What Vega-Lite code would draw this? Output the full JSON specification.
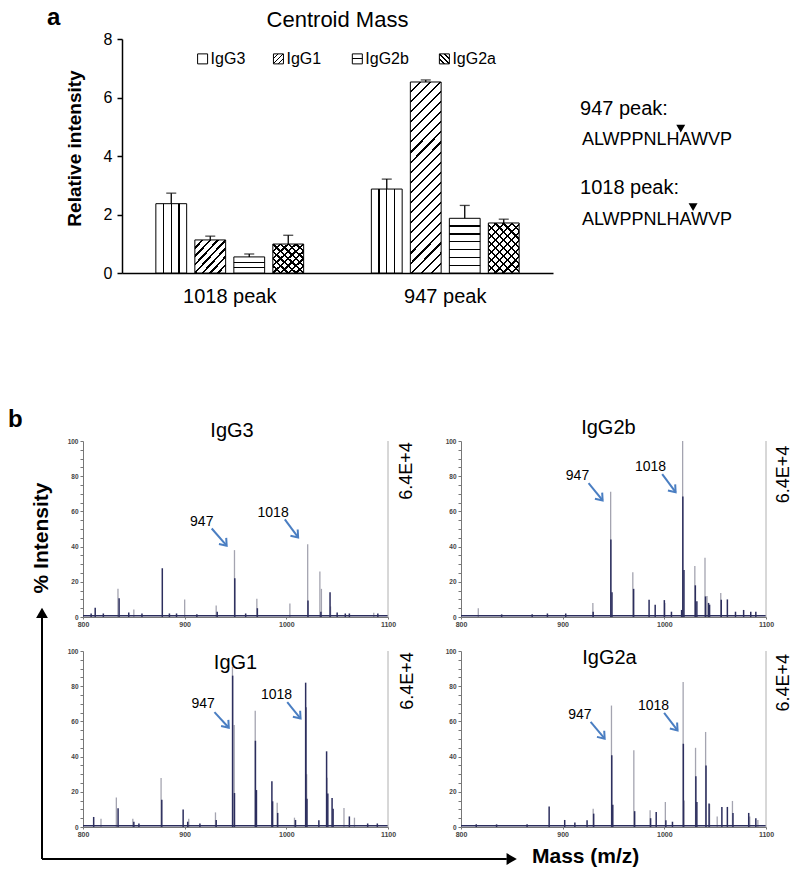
{
"$schema":"https://vega.github.io/schema/vega-lite/v6.json",
"padding":{"left":8,"top":5,"right":0,"bottom":0},
"background":"white",
"config":{"view":{"stroke":null},"font":"Liberation Sans","axis":{"grid":false}},
"datasets":{
"bars":[
{"peak":"1018 peak","isotype":"IgG3","value":2.37,"upper":2.73},
{"peak":"1018 peak","isotype":"IgG1","value":1.13,"upper":1.26},
{"peak":"1018 peak","isotype":"IgG2b","value":0.55,"upper":0.65},
{"peak":"1018 peak","isotype":"IgG2a","value":0.99,"upper":1.29},
{"peak":"947 peak","isotype":"IgG3","value":2.87,"upper":3.21},
{"peak":"947 peak","isotype":"IgG1","value":6.53,"upper":6.6},
{"peak":"947 peak","isotype":"IgG2b","value":1.87,"upper":2.31},
{"peak":"947 peak","isotype":"IgG2a","value":1.71,"upper":1.84}
],
"legend":[
{"k":"leg","isotype":"IgG3","lx":18.7,"ly":91.5},
{"k":"leg","isotype":"IgG1","lx":36.3,"ly":91.5},
{"k":"leg","isotype":"IgG2b","lx":54.6,"ly":91.5},
{"k":"leg","isotype":"IgG2a","lx":74.8,"ly":91.5},
{"k":"title","lx":50,"ly":105.3,"t":"Centroid Mass"},
{"k":"a","lx":-17.4,"ly":106,"t":"a"}
],
"seq":[
{"k":"h","x":11.4,"y":67.4,"t":"947 peak:"},
{"k":"s","x":12.2,"y":54.6,"t":"ALWPPNLHAWVP"},
{"k":"h","x":11.4,"y":33.6,"t":"1018 peak:"},
{"k":"s","x":12.2,"y":20.6,"t":"ALWPPNLHAWVP"},
{"k":"m","x":53.9,"y":61.7},
{"k":"m","x":59.1,"y":28.1}
],
"arrowy":[
{"k":"line","x":0,"y":0,"y2":17},
{"k":"head","x":0,"y":18.1},
{"k":"label","x":0,"y":53.8,"t":"% Intensity"},
{"k":"b","x":-82.9,"y":106.7,"t":"b"}
],
"arrowy2":[
{"k":"line","x":0,"y":0,"y2":100}
],
"arrowx":[
{"k":"line","x":0,"x2":66.4,"y":100},
{"k":"head","x":67.1,"y":100},
{"k":"label","x":70,"y":100,"t":"Mass (m/z)"}
],
"spec":[
{"p":"IgG3","k":"title","mz":946.6,"i":102,"txt":"IgG3"},
{"p":"IgG3","k":"side","mz":1118.7,"i":83,"txt":"6.4E+4"},
{"p":"IgG3","k":"base","mz":800,"mz2":1100,"i":0.7},
{"p":"IgG3","k":"edge","mz":1100,"i":100},
{"p":"IgG3","k":"lab","mz":916.8,"i":54,"txt":"947"},
{"p":"IgG3","k":"lab","mz":987,"i":59,"txt":"1018"},
{"p":"IgG3","k":"arrow","mz":926.6,"i":50.3,"mz2":941.3,"i2":40.5},
{"p":"IgG3","k":"arrow","mz":998.5,"i":55.5,"mz2":1011.6,"i2":45.2},
{"p":"IgG3","k":"head","mz":941.3,"i":40.5},
{"p":"IgG3","k":"head","mz":1011.6,"i":45.2},
{"p":"IgG3","k":"n","mz":808,"i":2},
{"p":"IgG3","k":"n","mz":812,"i":5.3},
{"p":"IgG3","k":"n","mz":820,"i":2},
{"p":"IgG3","k":"g","mz":834.4,"i":16},
{"p":"IgG3","k":"n","mz":835.5,"i":10.7},
{"p":"IgG3","k":"n","mz":845,"i":2.5},
{"p":"IgG3","k":"g","mz":850,"i":4.3},
{"p":"IgG3","k":"n","mz":858,"i":2},
{"p":"IgG3","k":"n","mz":878,"i":27.7},
{"p":"IgG3","k":"n","mz":885,"i":2},
{"p":"IgG3","k":"n","mz":892,"i":2},
{"p":"IgG3","k":"g","mz":900,"i":10},
{"p":"IgG3","k":"n","mz":912,"i":1.5},
{"p":"IgG3","k":"g","mz":931,"i":6.6},
{"p":"IgG3","k":"n","mz":932,"i":3},
{"p":"IgG3","k":"g","mz":949,"i":38},
{"p":"IgG3","k":"n","mz":949.3,"i":22},
{"p":"IgG3","k":"n","mz":960,"i":2},
{"p":"IgG3","k":"g","mz":971,"i":10.4},
{"p":"IgG3","k":"n","mz":971.5,"i":5},
{"p":"IgG3","k":"g","mz":1003.5,"i":7.7},
{"p":"IgG3","k":"g","mz":1021,"i":41.4},
{"p":"IgG3","k":"n","mz":1021.3,"i":9.4},
{"p":"IgG3","k":"g","mz":1033,"i":25.8},
{"p":"IgG3","k":"g","mz":1034.5,"i":16},
{"p":"IgG3","k":"n","mz":1034,"i":3},
{"p":"IgG3","k":"n","mz":1043,"i":14},
{"p":"IgG3","k":"g","mz":1043.5,"i":6},
{"p":"IgG3","k":"n","mz":1050,"i":2.5},
{"p":"IgG3","k":"n","mz":1058,"i":2},
{"p":"IgG3","k":"n","mz":1062,"i":2},
{"p":"IgG3","k":"g","mz":1086,"i":2.4},
{"p":"IgG3","k":"n","mz":1090,"i":2},
{"p":"IgG2b","k":"title","mz":945,"i":103.8,"txt":"IgG2b"},
{"p":"IgG2b","k":"side","mz":1117.7,"i":81,"txt":"6.4E+4"},
{"p":"IgG2b","k":"base","mz":800,"mz2":1100,"i":0.7},
{"p":"IgG2b","k":"edge","mz":1100,"i":100},
{"p":"IgG2b","k":"lab","mz":914.6,"i":79.9,"txt":"947"},
{"p":"IgG2b","k":"lab","mz":986.4,"i":85,"txt":"1018"},
{"p":"IgG2b","k":"arrow","mz":925.5,"i":76.1,"mz2":939.3,"i2":66.2},
{"p":"IgG2b","k":"arrow","mz":997.9,"i":81.2,"mz2":1011.1,"i2":70.9},
{"p":"IgG2b","k":"head","mz":939.3,"i":66.2},
{"p":"IgG2b","k":"head","mz":1011.1,"i":70.9},
{"p":"IgG2b","k":"g","mz":817,"i":5},
{"p":"IgG2b","k":"n","mz":840,"i":1.5},
{"p":"IgG2b","k":"n","mz":870,"i":1.5},
{"p":"IgG2b","k":"n","mz":885,"i":2},
{"p":"IgG2b","k":"n","mz":903,"i":2},
{"p":"IgG2b","k":"g","mz":929.7,"i":8},
{"p":"IgG2b","k":"n","mz":930,"i":3},
{"p":"IgG2b","k":"g","mz":947.2,"i":71.2},
{"p":"IgG2b","k":"n","mz":947.4,"i":44},
{"p":"IgG2b","k":"n","mz":948.5,"i":14},
{"p":"IgG2b","k":"g","mz":969,"i":25.4},
{"p":"IgG2b","k":"n","mz":969.8,"i":16},
{"p":"IgG2b","k":"n","mz":985,"i":9.8},
{"p":"IgG2b","k":"n","mz":991,"i":7},
{"p":"IgG2b","k":"g","mz":1000.5,"i":8},
{"p":"IgG2b","k":"n","mz":1000,"i":9.6},
{"p":"IgG2b","k":"n","mz":1007,"i":3},
{"p":"IgG2b","k":"g","mz":1018,"i":100},
{"p":"IgG2b","k":"n","mz":1018.2,"i":68.4},
{"p":"IgG2b","k":"n","mz":1019.3,"i":26.7},
{"p":"IgG2b","k":"n","mz":1017,"i":4},
{"p":"IgG2b","k":"g","mz":1030,"i":29},
{"p":"IgG2b","k":"n","mz":1030.5,"i":18},
{"p":"IgG2b","k":"n","mz":1032,"i":9},
{"p":"IgG2b","k":"g","mz":1040,"i":33.6},
{"p":"IgG2b","k":"n","mz":1040.5,"i":11.7},
{"p":"IgG2b","k":"g","mz":1042,"i":12},
{"p":"IgG2b","k":"n","mz":1043.5,"i":8},
{"p":"IgG2b","k":"n","mz":1044.5,"i":7},
{"p":"IgG2b","k":"g","mz":1055.5,"i":13.7},
{"p":"IgG2b","k":"n","mz":1056,"i":9.8},
{"p":"IgG2b","k":"n","mz":1062,"i":10},
{"p":"IgG2b","k":"n","mz":1070,"i":3},
{"p":"IgG2b","k":"n","mz":1078,"i":4},
{"p":"IgG2b","k":"n","mz":1085,"i":3},
{"p":"IgG2b","k":"n","mz":1090,"i":3},
{"p":"IgG1","k":"title","mz":950,"i":89.7,"txt":"IgG1"},
{"p":"IgG1","k":"side","mz":1119.6,"i":83,"txt":"6.4E+4"},
{"p":"IgG1","k":"base","mz":800,"mz2":1100,"i":0.7},
{"p":"IgG1","k":"edge","mz":1100,"i":100},
{"p":"IgG1","k":"lab","mz":918.2,"i":69.7,"txt":"947"},
{"p":"IgG1","k":"lab","mz":990.4,"i":74.8,"txt":"1018"},
{"p":"IgG1","k":"arrow","mz":929.3,"i":65.3,"mz2":943.4,"i2":56.4},
{"p":"IgG1","k":"arrow","mz":1000.9,"i":71,"mz2":1014,"i2":61.6},
{"p":"IgG1","k":"head","mz":943.4,"i":56.4},
{"p":"IgG1","k":"head","mz":1014,"i":61.6},
{"p":"IgG1","k":"n","mz":810.5,"i":5.7},
{"p":"IgG1","k":"g","mz":817.7,"i":4.7},
{"p":"IgG1","k":"g","mz":832.8,"i":16.7},
{"p":"IgG1","k":"n","mz":834.5,"i":10.6},
{"p":"IgG1","k":"g","mz":849,"i":4.7},
{"p":"IgG1","k":"n","mz":850,"i":3},
{"p":"IgG1","k":"n","mz":855,"i":2},
{"p":"IgG1","k":"g","mz":876.8,"i":27.8},
{"p":"IgG1","k":"n","mz":877.5,"i":15.5},
{"p":"IgG1","k":"n","mz":898.5,"i":10},
{"p":"IgG1","k":"g","mz":904,"i":4.7},
{"p":"IgG1","k":"n","mz":903,"i":3},
{"p":"IgG1","k":"n","mz":915,"i":2},
{"p":"IgG1","k":"g","mz":930.3,"i":8.3},
{"p":"IgG1","k":"n","mz":931,"i":4},
{"p":"IgG1","k":"g","mz":947,"i":91},
{"p":"IgG1","k":"n","mz":947.2,"i":86},
{"p":"IgG1","k":"g","mz":948.7,"i":58},
{"p":"IgG1","k":"n","mz":949,"i":19.3},
{"p":"IgG1","k":"g","mz":969.4,"i":66},
{"p":"IgG1","k":"n","mz":969.6,"i":49},
{"p":"IgG1","k":"n","mz":970.6,"i":21},
{"p":"IgG1","k":"n","mz":985.8,"i":26},
{"p":"IgG1","k":"n","mz":986.5,"i":14.6},
{"p":"IgG1","k":"g","mz":991,"i":13.8},
{"p":"IgG1","k":"n","mz":991.5,"i":8},
{"p":"IgG1","k":"g","mz":1008,"i":5.3},
{"p":"IgG1","k":"n","mz":1009,"i":4},
{"p":"IgG1","k":"n","mz":1019,"i":82},
{"p":"IgG1","k":"n","mz":1019.2,"i":68},
{"p":"IgG1","k":"g","mz":1020,"i":30},
{"p":"IgG1","k":"n","mz":1020.3,"i":16},
{"p":"IgG1","k":"n","mz":1032,"i":3.8},
{"p":"IgG1","k":"n","mz":1039.6,"i":43},
{"p":"IgG1","k":"g","mz":1040,"i":28},
{"p":"IgG1","k":"n","mz":1040.8,"i":19},
{"p":"IgG1","k":"n","mz":1045,"i":16.5},
{"p":"IgG1","k":"n","mz":1046,"i":10.4},
{"p":"IgG1","k":"g","mz":1056.7,"i":10.8},
{"p":"IgG1","k":"n","mz":1062,"i":6},
{"p":"IgG1","k":"g","mz":1067,"i":5.3},
{"p":"IgG1","k":"n","mz":1080,"i":2},
{"p":"IgG1","k":"n","mz":1089.5,"i":2},
{"p":"IgG2a","k":"title","mz":946,"i":92.6,"txt":"IgG2a"},
{"p":"IgG2a","k":"side","mz":1117.6,"i":82,"txt":"6.4E+4"},
{"p":"IgG2a","k":"base","mz":800,"mz2":1100,"i":0.7},
{"p":"IgG2a","k":"edge","mz":1100,"i":100},
{"p":"IgG2a","k":"lab","mz":917,"i":63.4,"txt":"947"},
{"p":"IgG2a","k":"lab","mz":989.3,"i":68.6,"txt":"1018"},
{"p":"IgG2a","k":"arrow","mz":927.5,"i":59.7,"mz2":941.3,"i2":50.2},
{"p":"IgG2a","k":"arrow","mz":999.8,"i":64.8,"mz2":1013,"i2":54.9},
{"p":"IgG2a","k":"head","mz":941.3,"i":50.2},
{"p":"IgG2a","k":"head","mz":1013,"i":54.9},
{"p":"IgG2a","k":"n","mz":815,"i":1.5},
{"p":"IgG2a","k":"n","mz":835,"i":1.5},
{"p":"IgG2a","k":"n","mz":865,"i":1.5},
{"p":"IgG2a","k":"n","mz":886.7,"i":11.7},
{"p":"IgG2a","k":"n","mz":902,"i":4},
{"p":"IgG2a","k":"n","mz":912,"i":2.5},
{"p":"IgG2a","k":"n","mz":924,"i":3.8},
{"p":"IgG2a","k":"g","mz":930,"i":10.4},
{"p":"IgG2a","k":"n","mz":930.5,"i":7.6},
{"p":"IgG2a","k":"g","mz":948,"i":69},
{"p":"IgG2a","k":"n","mz":948.3,"i":40.7},
{"p":"IgG2a","k":"n","mz":949.3,"i":12.7},
{"p":"IgG2a","k":"g","mz":970,"i":43.6},
{"p":"IgG2a","k":"n","mz":970.8,"i":9},
{"p":"IgG2a","k":"g","mz":986,"i":9.5},
{"p":"IgG2a","k":"n","mz":986.5,"i":5},
{"p":"IgG2a","k":"n","mz":992,"i":8.5},
{"p":"IgG2a","k":"g","mz":1001,"i":14.2},
{"p":"IgG2a","k":"n","mz":1001.5,"i":3.8},
{"p":"IgG2a","k":"n","mz":1008,"i":3},
{"p":"IgG2a","k":"g","mz":1018.5,"i":82.4},
{"p":"IgG2a","k":"n","mz":1018.7,"i":47.3},
{"p":"IgG2a","k":"g","mz":1019.5,"i":15},
{"p":"IgG2a","k":"g","mz":1030.7,"i":45},
{"p":"IgG2a","k":"n","mz":1031,"i":28.8},
{"p":"IgG2a","k":"n","mz":1032,"i":14.2},
{"p":"IgG2a","k":"g","mz":1040.6,"i":54},
{"p":"IgG2a","k":"n","mz":1041,"i":35},
{"p":"IgG2a","k":"g","mz":1044.5,"i":13},
{"p":"IgG2a","k":"n","mz":1044,"i":13.3},
{"p":"IgG2a","k":"g","mz":1052,"i":6},
{"p":"IgG2a","k":"n","mz":1056.6,"i":11.4},
{"p":"IgG2a","k":"n","mz":1062,"i":11.4},
{"p":"IgG2a","k":"g","mz":1067,"i":14.8},
{"p":"IgG2a","k":"n","mz":1067.5,"i":8},
{"p":"IgG2a","k":"n","mz":1083,"i":8},
{"p":"IgG2a","k":"g","mz":1084,"i":6},
{"p":"IgG2a","k":"n","mz":1090,"i":5},
{"p":"IgG2a","k":"g","mz":1092,"i":4}
]
},
"bounds":"flush",
"spacing":0,
"vconcat":[
{"bounds":"flush","spacing":0,"hconcat":[
 {"width":80,"height":234,"data":{"values":[{"t":""}]},"mark":{"type":"text"},"encoding":{"text":{"field":"t"}}},
 {"width":431,"height":234,
  "resolve":{"scale":{"x":"independent","y":"independent"}},
  "layer":[
  {"data":{"name":"bars"},
  "encoding":{
   "x":{"field":"peak","type":"nominal","scale":{"domain":["1018 peak","947 peak"],"paddingInner":0.278,"paddingOuter":0.139},
        "axis":{"title":null,"labelAngle":0,"labelFontSize":20,"ticks":false,"labelPadding":13,"domainColor":"black","domainWidth":1.5,"labelColor":"black"}},
   "xOffset":{"field":"isotype","type":"nominal","scale":{"domain":["IgG3","IgG1","IgG2b","IgG2a"],"paddingInner":0.21,"paddingOuter":0.1}}
  },
  "layer":[
   {"mark":{"type":"bar","stroke":"black","strokeWidth":1},
    "encoding":{
     "y":{"field":"value","type":"quantitative","scale":{"domain":[0,8],"nice":false},
          "axis":{"title":"Relative intensity","titleFontSize":19,"titleFontWeight":"bold","titleColor":"black","titlePadding":19,"titleY":109,"values":[0,2,4,6,8],"labelFontSize":16,"labelColor":"black","tickSize":5,"tickColor":"black","tickWidth":1.5,"domainColor":"black","domainWidth":1.5,"labelPadding":5}},
     "fill":{
      "condition":[
       {"test":"datum.isotype==='IgG2b' && datum.peak==='947 peak'","value":{"gradient":"linear","x1":0,"y1":0,"x2":0,"y2":1,"stops":[{"offset":0,"color":"white"},{"offset":0.131,"color":"white"},{"offset":0.131,"color":"black"},{"offset":0.155,"color":"black"},{"offset":0.155,"color":"white"},{"offset":0.274,"color":"white"},{"offset":0.274,"color":"black"},{"offset":0.298,"color":"black"},{"offset":0.298,"color":"white"},{"offset":0.417,"color":"white"},{"offset":0.417,"color":"black"},{"offset":0.441,"color":"black"},{"offset":0.441,"color":"white"},{"offset":0.56,"color":"white"},{"offset":0.56,"color":"black"},{"offset":0.584,"color":"black"},{"offset":0.584,"color":"white"},{"offset":0.702,"color":"white"},{"offset":0.702,"color":"black"},{"offset":0.726,"color":"black"},{"offset":0.726,"color":"white"},{"offset":0.845,"color":"white"},{"offset":0.845,"color":"black"},{"offset":0.869,"color":"black"},{"offset":0.869,"color":"white"},{"offset":1,"color":"white"}]}},
       {"test":"datum.isotype==='IgG1' && datum.peak==='947 peak'","value":{"gradient":"linear","x1":0,"y1":0,"x2":0.184,"y2":1.133,"stops":[{"offset":0,"color":"white"},{"offset":0.0407,"color":"white"},{"offset":0.0407,"color":"black"},{"offset":0.0503,"color":"black"},{"offset":0.0503,"color":"white"},{"offset":0.0861,"color":"white"},{"offset":0.0861,"color":"black"},{"offset":0.0957,"color":"black"},{"offset":0.0957,"color":"white"},{"offset":0.1316,"color":"white"},{"offset":0.1316,"color":"black"},{"offset":0.1412,"color":"black"},{"offset":0.1412,"color":"white"},{"offset":0.177,"color":"white"},{"offset":0.177,"color":"black"},{"offset":0.1866,"color":"black"},{"offset":0.1866,"color":"white"},{"offset":0.2225,"color":"white"},{"offset":0.2225,"color":"black"},{"offset":0.2321,"color":"black"},{"offset":0.2321,"color":"white"},{"offset":0.2679,"color":"white"},{"offset":0.2679,"color":"black"},{"offset":0.2775,"color":"black"},{"offset":0.2775,"color":"white"},{"offset":0.3134,"color":"white"},{"offset":0.3134,"color":"black"},{"offset":0.323,"color":"black"},{"offset":0.323,"color":"white"},{"offset":0.3588,"color":"white"},{"offset":0.3588,"color":"black"},{"offset":0.3684,"color":"black"},{"offset":0.3684,"color":"white"},{"offset":0.4043,"color":"white"},{"offset":0.4043,"color":"black"},{"offset":0.4139,"color":"black"},{"offset":0.4139,"color":"white"},{"offset":0.4497,"color":"white"},{"offset":0.4497,"color":"black"},{"offset":0.4593,"color":"black"},{"offset":0.4593,"color":"white"},{"offset":0.4952,"color":"white"},{"offset":0.4952,"color":"black"},{"offset":0.5048,"color":"black"},{"offset":0.5048,"color":"white"},{"offset":0.5407,"color":"white"},{"offset":0.5407,"color":"black"},{"offset":0.5503,"color":"black"},{"offset":0.5503,"color":"white"},{"offset":0.5861,"color":"white"},{"offset":0.5861,"color":"black"},{"offset":0.5957,"color":"black"},{"offset":0.5957,"color":"white"},{"offset":0.6316,"color":"white"},{"offset":0.6316,"color":"black"},{"offset":0.6412,"color":"black"},{"offset":0.6412,"color":"white"},{"offset":0.677,"color":"white"},{"offset":0.677,"color":"black"},{"offset":0.6866,"color":"black"},{"offset":0.6866,"color":"white"},{"offset":0.7225,"color":"white"},{"offset":0.7225,"color":"black"},{"offset":0.7321,"color":"black"},{"offset":0.7321,"color":"white"},{"offset":0.7679,"color":"white"},{"offset":0.7679,"color":"black"},{"offset":0.7775,"color":"black"},{"offset":0.7775,"color":"white"},{"offset":0.8134,"color":"white"},{"offset":0.8134,"color":"black"},{"offset":0.823,"color":"black"},{"offset":0.823,"color":"white"},{"offset":0.8588,"color":"white"},{"offset":0.8588,"color":"black"},{"offset":0.8684,"color":"black"},{"offset":0.8684,"color":"white"},{"offset":0.9043,"color":"white"},{"offset":0.9043,"color":"black"},{"offset":0.9139,"color":"black"},{"offset":0.9139,"color":"white"},{"offset":0.9497,"color":"white"},{"offset":0.9497,"color":"black"},{"offset":0.9593,"color":"black"},{"offset":0.9593,"color":"white"},{"offset":1,"color":"white"}]}},
       {"test":"datum.isotype==='IgG2a' && datum.peak==='947 peak'","value":{"gradient":"linear","x1":0,"y1":1,"x2":0.725,"y2":-0.17,"stops":[{"offset":0,"color":"white"},{"offset":0.087,"color":"white"},{"offset":0.087,"color":"black"},{"offset":0.113,"color":"black"},{"offset":0.113,"color":"white"},{"offset":0.187,"color":"white"},{"offset":0.187,"color":"black"},{"offset":0.213,"color":"black"},{"offset":0.213,"color":"white"},{"offset":0.287,"color":"white"},{"offset":0.287,"color":"black"},{"offset":0.313,"color":"black"},{"offset":0.313,"color":"white"},{"offset":0.387,"color":"white"},{"offset":0.387,"color":"black"},{"offset":0.413,"color":"black"},{"offset":0.413,"color":"white"},{"offset":0.487,"color":"white"},{"offset":0.487,"color":"black"},{"offset":0.513,"color":"black"},{"offset":0.513,"color":"white"},{"offset":0.587,"color":"white"},{"offset":0.587,"color":"black"},{"offset":0.613,"color":"black"},{"offset":0.613,"color":"white"},{"offset":0.687,"color":"white"},{"offset":0.687,"color":"black"},{"offset":0.713,"color":"black"},{"offset":0.713,"color":"white"},{"offset":0.787,"color":"white"},{"offset":0.787,"color":"black"},{"offset":0.813,"color":"black"},{"offset":0.813,"color":"white"},{"offset":0.887,"color":"white"},{"offset":0.887,"color":"black"},{"offset":0.913,"color":"black"},{"offset":0.913,"color":"white"},{"offset":1,"color":"white"}]}},
       {"test":"datum.isotype==='IgG3'","value":{"gradient":"linear","x1":0,"y1":0,"x2":1,"y2":0,"stops":[{"offset":0,"color":"white"},{"offset":0.23,"color":"white"},{"offset":0.23,"color":"black"},{"offset":0.27,"color":"black"},{"offset":0.27,"color":"white"},{"offset":0.48,"color":"white"},{"offset":0.48,"color":"black"},{"offset":0.52,"color":"black"},{"offset":0.52,"color":"white"},{"offset":0.73,"color":"white"},{"offset":0.73,"color":"black"},{"offset":0.77,"color":"black"},{"offset":0.77,"color":"white"},{"offset":1,"color":"white"}]}},
       {"test":"datum.isotype==='IgG1'","value":{"gradient":"linear","x1":0,"y1":0,"x2":1,"y2":1,"stops":[{"offset":0,"color":"white"},{"offset":0.105,"color":"white"},{"offset":0.105,"color":"black"},{"offset":0.145,"color":"black"},{"offset":0.145,"color":"white"},{"offset":0.23,"color":"white"},{"offset":0.23,"color":"black"},{"offset":0.27,"color":"black"},{"offset":0.27,"color":"white"},{"offset":0.355,"color":"white"},{"offset":0.355,"color":"black"},{"offset":0.395,"color":"black"},{"offset":0.395,"color":"white"},{"offset":0.48,"color":"white"},{"offset":0.48,"color":"black"},{"offset":0.52,"color":"black"},{"offset":0.52,"color":"white"},{"offset":0.605,"color":"white"},{"offset":0.605,"color":"black"},{"offset":0.645,"color":"black"},{"offset":0.645,"color":"white"},{"offset":0.73,"color":"white"},{"offset":0.73,"color":"black"},{"offset":0.77,"color":"black"},{"offset":0.77,"color":"white"},{"offset":0.855,"color":"white"},{"offset":0.855,"color":"black"},{"offset":0.895,"color":"black"},{"offset":0.895,"color":"white"},{"offset":1,"color":"white"}]}},
       {"test":"datum.isotype==='IgG2b'","value":{"gradient":"linear","x1":0,"y1":0,"x2":0,"y2":1,"stops":[{"offset":0,"color":"white"},{"offset":0.293,"color":"white"},{"offset":0.293,"color":"black"},{"offset":0.373,"color":"black"},{"offset":0.373,"color":"white"},{"offset":0.627,"color":"white"},{"offset":0.627,"color":"black"},{"offset":0.707,"color":"black"},{"offset":0.707,"color":"white"},{"offset":1,"color":"white"}]}}
      ],
      "value":{"gradient":"linear","x1":0,"y1":1,"x2":1,"y2":0,"stops":[{"offset":0,"color":"white"},{"offset":0.105,"color":"white"},{"offset":0.105,"color":"black"},{"offset":0.145,"color":"black"},{"offset":0.145,"color":"white"},{"offset":0.23,"color":"white"},{"offset":0.23,"color":"black"},{"offset":0.27,"color":"black"},{"offset":0.27,"color":"white"},{"offset":0.355,"color":"white"},{"offset":0.355,"color":"black"},{"offset":0.395,"color":"black"},{"offset":0.395,"color":"white"},{"offset":0.48,"color":"white"},{"offset":0.48,"color":"black"},{"offset":0.52,"color":"black"},{"offset":0.52,"color":"white"},{"offset":0.605,"color":"white"},{"offset":0.605,"color":"black"},{"offset":0.645,"color":"black"},{"offset":0.645,"color":"white"},{"offset":0.73,"color":"white"},{"offset":0.73,"color":"black"},{"offset":0.77,"color":"black"},{"offset":0.77,"color":"white"},{"offset":0.855,"color":"white"},{"offset":0.855,"color":"black"},{"offset":0.895,"color":"black"},{"offset":0.895,"color":"white"},{"offset":1,"color":"white"}]}}
    }},
   {"transform":[{"filter":"datum.isotype==='IgG2a'"}],
    "mark":{"type":"bar","strokeWidth":0},
    "encoding":{
     "y":{"field":"value","type":"quantitative"},
     "fill":{"condition":{"test":"datum.peak==='947 peak'","value":{"gradient":"linear","x1":0,"y1":0,"x2":0.725,"y2":1.17,"stops":[{"offset":0,"color":"rgba(0,0,0,0)"},{"offset":0.087,"color":"rgba(0,0,0,0)"},{"offset":0.087,"color":"black"},{"offset":0.113,"color":"black"},{"offset":0.113,"color":"rgba(0,0,0,0)"},{"offset":0.187,"color":"rgba(0,0,0,0)"},{"offset":0.187,"color":"black"},{"offset":0.213,"color":"black"},{"offset":0.213,"color":"rgba(0,0,0,0)"},{"offset":0.287,"color":"rgba(0,0,0,0)"},{"offset":0.287,"color":"black"},{"offset":0.313,"color":"black"},{"offset":0.313,"color":"rgba(0,0,0,0)"},{"offset":0.387,"color":"rgba(0,0,0,0)"},{"offset":0.387,"color":"black"},{"offset":0.413,"color":"black"},{"offset":0.413,"color":"rgba(0,0,0,0)"},{"offset":0.487,"color":"rgba(0,0,0,0)"},{"offset":0.487,"color":"black"},{"offset":0.513,"color":"black"},{"offset":0.513,"color":"rgba(0,0,0,0)"},{"offset":0.587,"color":"rgba(0,0,0,0)"},{"offset":0.587,"color":"black"},{"offset":0.613,"color":"black"},{"offset":0.613,"color":"rgba(0,0,0,0)"},{"offset":0.687,"color":"rgba(0,0,0,0)"},{"offset":0.687,"color":"black"},{"offset":0.713,"color":"black"},{"offset":0.713,"color":"rgba(0,0,0,0)"},{"offset":0.787,"color":"rgba(0,0,0,0)"},{"offset":0.787,"color":"black"},{"offset":0.813,"color":"black"},{"offset":0.813,"color":"rgba(0,0,0,0)"},{"offset":0.887,"color":"rgba(0,0,0,0)"},{"offset":0.887,"color":"black"},{"offset":0.913,"color":"black"},{"offset":0.913,"color":"rgba(0,0,0,0)"},{"offset":1,"color":"rgba(0,0,0,0)"}]}},
      "value":{"gradient":"linear","x1":0,"y1":0,"x2":1,"y2":1,"stops":[{"offset":0,"color":"rgba(0,0,0,0)"},{"offset":0.105,"color":"rgba(0,0,0,0)"},{"offset":0.105,"color":"black"},{"offset":0.145,"color":"black"},{"offset":0.145,"color":"rgba(0,0,0,0)"},{"offset":0.23,"color":"rgba(0,0,0,0)"},{"offset":0.23,"color":"black"},{"offset":0.27,"color":"black"},{"offset":0.27,"color":"rgba(0,0,0,0)"},{"offset":0.355,"color":"rgba(0,0,0,0)"},{"offset":0.355,"color":"black"},{"offset":0.395,"color":"black"},{"offset":0.395,"color":"rgba(0,0,0,0)"},{"offset":0.48,"color":"rgba(0,0,0,0)"},{"offset":0.48,"color":"black"},{"offset":0.52,"color":"black"},{"offset":0.52,"color":"rgba(0,0,0,0)"},{"offset":0.605,"color":"rgba(0,0,0,0)"},{"offset":0.605,"color":"black"},{"offset":0.645,"color":"black"},{"offset":0.645,"color":"rgba(0,0,0,0)"},{"offset":0.73,"color":"rgba(0,0,0,0)"},{"offset":0.73,"color":"black"},{"offset":0.77,"color":"black"},{"offset":0.77,"color":"rgba(0,0,0,0)"},{"offset":0.855,"color":"rgba(0,0,0,0)"},{"offset":0.855,"color":"black"},{"offset":0.895,"color":"black"},{"offset":0.895,"color":"rgba(0,0,0,0)"},{"offset":1,"color":"rgba(0,0,0,0)"}]}}
    }},
   {"mark":{"type":"rule","color":"black","strokeWidth":1.3},"encoding":{"y":{"field":"value","type":"quantitative"},"y2":{"field":"upper"}}},
   {"mark":{"type":"tick","color":"black","thickness":1.3,"size":10},"encoding":{"y":{"field":"upper","type":"quantitative"}}}
  ]},
  {"data":{"name":"legend"},
   "encoding":{"x":{"field":"lx","type":"quantitative","scale":{"domain":[0,100]},"axis":null},"y":{"field":"ly","type":"quantitative","scale":{"domain":[0,100]},"axis":null}},
   "layer":[
    {"transform":[{"filter":"datum.k==='leg'"}],"mark":{"type":"point","shape":"square","size":100,"filled":true,"stroke":"black","strokeWidth":1,"opacity":1},
     "encoding":{"fill":{
      "condition":[
       {"test":"datum.isotype==='IgG3'","value":{"gradient":"linear","x1":0,"y1":0,"x2":1,"y2":0,"stops":[{"offset":0,"color":"white"},{"offset":0.31,"color":"white"},{"offset":0.31,"color":"black"},{"offset":0.38,"color":"black"},{"offset":0.38,"color":"white"},{"offset":0.62,"color":"white"},{"offset":0.62,"color":"black"},{"offset":0.69,"color":"black"},{"offset":0.69,"color":"white"},{"offset":1,"color":"white"}]}},
       {"test":"datum.isotype==='IgG1'","value":{"gradient":"linear","x1":0,"y1":0,"x2":1,"y2":1,"stops":[{"offset":0,"color":"white"},{"offset":0.22,"color":"white"},{"offset":0.22,"color":"black"},{"offset":0.28,"color":"black"},{"offset":0.28,"color":"white"},{"offset":0.47,"color":"white"},{"offset":0.47,"color":"black"},{"offset":0.53,"color":"black"},{"offset":0.53,"color":"white"},{"offset":0.72,"color":"white"},{"offset":0.72,"color":"black"},{"offset":0.78,"color":"black"},{"offset":0.78,"color":"white"},{"offset":1,"color":"white"}]}},
       {"test":"datum.isotype==='IgG2b'","value":{"gradient":"linear","x1":0,"y1":0,"x2":0,"y2":1,"stops":[{"offset":0,"color":"white"},{"offset":0.45,"color":"white"},{"offset":0.45,"color":"black"},{"offset":0.55,"color":"black"},{"offset":0.55,"color":"white"},{"offset":1,"color":"white"}]}}
      ],
      "value":{"gradient":"linear","x1":0,"y1":1,"x2":1,"y2":0,"stops":[{"offset":0,"color":"white"},{"offset":0.22,"color":"white"},{"offset":0.22,"color":"black"},{"offset":0.28,"color":"black"},{"offset":0.28,"color":"white"},{"offset":0.47,"color":"white"},{"offset":0.47,"color":"black"},{"offset":0.53,"color":"black"},{"offset":0.53,"color":"white"},{"offset":0.72,"color":"white"},{"offset":0.72,"color":"black"},{"offset":0.78,"color":"black"},{"offset":0.78,"color":"white"},{"offset":1,"color":"white"}]}}}},
    {"transform":[{"filter":"datum.k==='leg'"}],"mark":{"type":"text","align":"left","baseline":"middle","fontSize":16,"dx":8,"color":"black"},"encoding":{"text":{"field":"isotype"}}},
    {"transform":[{"filter":"datum.k==='title'"}],"mark":{"type":"text","align":"center","baseline":"alphabetic","fontSize":22,"color":"black"},"encoding":{"text":{"field":"t"}}},
    {"transform":[{"filter":"datum.k==='a'"}],"mark":{"type":"text","align":"left","baseline":"alphabetic","fontSize":24,"fontWeight":"bold","color":"black"},"encoding":{"text":{"field":"t"}}}
   ]}
  ]},
 {"width":237,"height":234,
  "data":{"name":"seq"},
  "encoding":{"x":{"field":"x","type":"quantitative","scale":{"domain":[0,100]},"axis":null},"y":{"field":"y","type":"quantitative","scale":{"domain":[0,100]},"axis":null}},
  "layer":[
   {"transform":[{"filter":"datum.k==='h'"}],"mark":{"type":"text","align":"left","baseline":"alphabetic","fontSize":20,"color":"black"},"encoding":{"text":{"field":"t"}}},
   {"transform":[{"filter":"datum.k==='s'"}],"mark":{"type":"text","align":"left","baseline":"alphabetic","fontSize":18,"color":"black"},"encoding":{"text":{"field":"t"}}},
   {"transform":[{"filter":"datum.k==='m'"}],"mark":{"type":"point","shape":"triangle-down","filled":true,"color":"black","size":80,"opacity":1}}
  ]}
]},
{"width":1,"height":402,"data":{"values":[{"t":""}]},"mark":{"type":"text"},"encoding":{"text":{"field":"t"}}},
{"bounds":"flush","spacing":0,"hconcat":[
 {"width":41,"height":210,
  "data":{"name":"arrowy"},
  "encoding":{"x":{"field":"x","type":"quantitative","scale":{"domain":[0,100]},"axis":null},"y":{"field":"y","type":"quantitative","scale":{"domain":[0,100]},"axis":null}},
  "layer":[
   {"transform":[{"filter":"datum.k==='line'"}],"mark":{"type":"rule","color":"black","strokeWidth":2},"encoding":{"y2":{"field":"y2"}}},
   {"transform":[{"filter":"datum.k==='head'"}],"mark":{"type":"point","shape":"triangle-up","filled":true,"color":"black","size":140,"opacity":1}},
   {"transform":[{"filter":"datum.k==='label'"}],"mark":{"type":"text","angle":270,"align":"center","baseline":"middle","fontSize":21,"fontWeight":"bold","color":"black"},"encoding":{"text":{"field":"t"}}},
   {"transform":[{"filter":"datum.k==='b'"}],"mark":{"type":"text","align":"left","baseline":"alphabetic","fontSize":24,"fontWeight":"bold","color":"black"},"encoding":{"text":{"field":"t"}}}
  ]},
 {"width":305,"height":176,"data":{"name":"spec"},"transform":[{"filter":"datum.p==='IgG3'"}],
  "encoding":{
   "x":{"field":"mz","type":"quantitative","scale":{"domain":[800,1100],"nice":false,"zero":false},
        "axis":{"values":[800,900,1000,1100],"format":"d","title":null,"labelFontSize":7,"labelFontWeight":"bold","labelColor":"#444","tickSize":2,"tickColor":"#777","domainColor":"#777","labelPadding":1,"labelFlush":false,"labelOverlap":false}},
   "y":{"field":"i","type":"quantitative","scale":{"domain":[0,100],"nice":false},
        "axis":{"values":[0,5,10,15,20,25,30,35,40,45,50,55,60,65,70,75,80,85,90,95,100],"labelExpr":"datum.value % 20 === 0 ? datum.label : ''","title":null,"labelFontSize":6.5,"labelFontWeight":"bold","labelColor":"#444","tickSize":3,"tickColor":"#777","domainColor":"#777","labelPadding":2,"labelOverlap":false}}
  },
  "layer":[
   {"transform":[{"filter":"datum.k==='g'"}],"mark":{"type":"rule","color":"#a4a4b0","strokeWidth":1.3},"encoding":{"y2":{"datum":0}}},
   {"transform":[{"filter":"datum.k==='n'"}],"mark":{"type":"rule","color":"#2c2e5e","strokeWidth":1.5},"encoding":{"y2":{"datum":0}}},
   {"transform":[{"filter":"datum.k==='base'"}],"mark":{"type":"rule","color":"#2c2e5e","strokeWidth":1.5},"encoding":{"x2":{"field":"mz2"}}},
   {"transform":[{"filter":"datum.k==='edge'"}],"mark":{"type":"rule","color":"#b0b0b0","strokeWidth":1},"encoding":{"y2":{"datum":0}}},
   {"transform":[{"filter":"datum.k==='arrow'"}],"mark":{"type":"rule","color":"#4a7ec2","strokeWidth":2},"encoding":{"x2":{"field":"mz2"},"y2":{"field":"i2"}}},
   {"transform":[{"filter":"datum.k==='head'"}],"mark":{"type":"point","shape":"M -1 -0.75 L 0 0 L -1 0.75","filled":false,"color":"#4a7ec2","strokeWidth":2,"size":160,"angle":50,"opacity":1}},
   {"transform":[{"filter":"datum.k==='lab'"}],"mark":{"type":"text","fontSize":14,"align":"center","baseline":"middle","color":"black"},"encoding":{"text":{"field":"txt"}}},
   {"transform":[{"filter":"datum.k==='side'"}],"mark":{"type":"text","fontSize":18,"angle":270,"align":"center","baseline":"middle","color":"black"},"encoding":{"text":{"field":"txt"}}},
   {"transform":[{"filter":"datum.k==='title'"}],"mark":{"type":"text","fontSize":20,"align":"center","baseline":"alphabetic","color":"black"},"encoding":{"text":{"field":"txt"}}}
  ]},
 {"width":73,"height":1,"data":{"values":[{"t":""}]},"mark":{"type":"text"},"encoding":{"text":{"field":"t"}}},
 {"width":305,"height":176,"data":{"name":"spec"},"transform":[{"filter":"datum.p==='IgG2b'"}],
  "encoding":{
   "x":{"field":"mz","type":"quantitative","scale":{"domain":[800,1100],"nice":false,"zero":false},
        "axis":{"values":[800,900,1000,1100],"format":"d","title":null,"labelFontSize":7,"labelFontWeight":"bold","labelColor":"#444","tickSize":2,"tickColor":"#777","domainColor":"#777","labelPadding":1,"labelFlush":false,"labelOverlap":false}},
   "y":{"field":"i","type":"quantitative","scale":{"domain":[0,100],"nice":false},
        "axis":{"values":[0,5,10,15,20,25,30,35,40,45,50,55,60,65,70,75,80,85,90,95,100],"labelExpr":"datum.value % 20 === 0 ? datum.label : ''","title":null,"labelFontSize":6.5,"labelFontWeight":"bold","labelColor":"#444","tickSize":3,"tickColor":"#777","domainColor":"#777","labelPadding":2,"labelOverlap":false}}
  },
  "layer":[
   {"transform":[{"filter":"datum.k==='g'"}],"mark":{"type":"rule","color":"#a4a4b0","strokeWidth":1.3},"encoding":{"y2":{"datum":0}}},
   {"transform":[{"filter":"datum.k==='n'"}],"mark":{"type":"rule","color":"#2c2e5e","strokeWidth":1.5},"encoding":{"y2":{"datum":0}}},
   {"transform":[{"filter":"datum.k==='base'"}],"mark":{"type":"rule","color":"#2c2e5e","strokeWidth":1.5},"encoding":{"x2":{"field":"mz2"}}},
   {"transform":[{"filter":"datum.k==='edge'"}],"mark":{"type":"rule","color":"#b0b0b0","strokeWidth":1},"encoding":{"y2":{"datum":0}}},
   {"transform":[{"filter":"datum.k==='arrow'"}],"mark":{"type":"rule","color":"#4a7ec2","strokeWidth":2},"encoding":{"x2":{"field":"mz2"},"y2":{"field":"i2"}}},
   {"transform":[{"filter":"datum.k==='head'"}],"mark":{"type":"point","shape":"M -1 -0.75 L 0 0 L -1 0.75","filled":false,"color":"#4a7ec2","strokeWidth":2,"size":160,"angle":50,"opacity":1}},
   {"transform":[{"filter":"datum.k==='lab'"}],"mark":{"type":"text","fontSize":14,"align":"center","baseline":"middle","color":"black"},"encoding":{"text":{"field":"txt"}}},
   {"transform":[{"filter":"datum.k==='side'"}],"mark":{"type":"text","fontSize":18,"angle":270,"align":"center","baseline":"middle","color":"black"},"encoding":{"text":{"field":"txt"}}},
   {"transform":[{"filter":"datum.k==='title'"}],"mark":{"type":"text","fontSize":20,"align":"center","baseline":"alphabetic","color":"black"},"encoding":{"text":{"field":"txt"}}}
  ]}
]},
{"width":1,"height":210,"data":{"values":[{"t":""}]},"mark":{"type":"text"},"encoding":{"text":{"field":"t"}}},
{"bounds":"flush","spacing":0,"hconcat":[
 {"width":41,"height":208,
  "data":{"name":"arrowy2"},
  "encoding":{"x":{"field":"x","type":"quantitative","scale":{"domain":[0,100]},"axis":null},"y":{"field":"y","type":"quantitative","scale":{"domain":[0,100]},"axis":null}},
  "layer":[
   {"mark":{"type":"rule","color":"black","strokeWidth":2},"encoding":{"y2":{"field":"y2"}}}
  ]},
 {"width":305,"height":176,"data":{"name":"spec"},"transform":[{"filter":"datum.p==='IgG1'"}],
  "encoding":{
   "x":{"field":"mz","type":"quantitative","scale":{"domain":[800,1100],"nice":false,"zero":false},
        "axis":{"values":[800,900,1000,1100],"format":"d","title":null,"labelFontSize":7,"labelFontWeight":"bold","labelColor":"#444","tickSize":2,"tickColor":"#777","domainColor":"#777","labelPadding":1,"labelFlush":false,"labelOverlap":false}},
   "y":{"field":"i","type":"quantitative","scale":{"domain":[0,100],"nice":false},
        "axis":{"values":[0,5,10,15,20,25,30,35,40,45,50,55,60,65,70,75,80,85,90,95,100],"labelExpr":"datum.value % 20 === 0 ? datum.label : ''","title":null,"labelFontSize":6.5,"labelFontWeight":"bold","labelColor":"#444","tickSize":3,"tickColor":"#777","domainColor":"#777","labelPadding":2,"labelOverlap":false}}
  },
  "layer":[
   {"transform":[{"filter":"datum.k==='g'"}],"mark":{"type":"rule","color":"#a4a4b0","strokeWidth":1.3},"encoding":{"y2":{"datum":0}}},
   {"transform":[{"filter":"datum.k==='n'"}],"mark":{"type":"rule","color":"#2c2e5e","strokeWidth":1.5},"encoding":{"y2":{"datum":0}}},
   {"transform":[{"filter":"datum.k==='base'"}],"mark":{"type":"rule","color":"#2c2e5e","strokeWidth":1.5},"encoding":{"x2":{"field":"mz2"}}},
   {"transform":[{"filter":"datum.k==='edge'"}],"mark":{"type":"rule","color":"#b0b0b0","strokeWidth":1},"encoding":{"y2":{"datum":0}}},
   {"transform":[{"filter":"datum.k==='arrow'"}],"mark":{"type":"rule","color":"#4a7ec2","strokeWidth":2},"encoding":{"x2":{"field":"mz2"},"y2":{"field":"i2"}}},
   {"transform":[{"filter":"datum.k==='head'"}],"mark":{"type":"point","shape":"M -1 -0.75 L 0 0 L -1 0.75","filled":false,"color":"#4a7ec2","strokeWidth":2,"size":160,"angle":50,"opacity":1}},
   {"transform":[{"filter":"datum.k==='lab'"}],"mark":{"type":"text","fontSize":14,"align":"center","baseline":"middle","color":"black"},"encoding":{"text":{"field":"txt"}}},
   {"transform":[{"filter":"datum.k==='side'"}],"mark":{"type":"text","fontSize":18,"angle":270,"align":"center","baseline":"middle","color":"black"},"encoding":{"text":{"field":"txt"}}},
   {"transform":[{"filter":"datum.k==='title'"}],"mark":{"type":"text","fontSize":20,"align":"center","baseline":"alphabetic","color":"black"},"encoding":{"text":{"field":"txt"}}}
  ]},
 {"width":73,"height":1,"data":{"values":[{"t":""}]},"mark":{"type":"text"},"encoding":{"text":{"field":"t"}}},
 {"width":305,"height":176,"data":{"name":"spec"},"transform":[{"filter":"datum.p==='IgG2a'"}],
  "encoding":{
   "x":{"field":"mz","type":"quantitative","scale":{"domain":[800,1100],"nice":false,"zero":false},
        "axis":{"values":[800,900,1000,1100],"format":"d","title":null,"labelFontSize":7,"labelFontWeight":"bold","labelColor":"#444","tickSize":2,"tickColor":"#777","domainColor":"#777","labelPadding":1,"labelFlush":false,"labelOverlap":false}},
   "y":{"field":"i","type":"quantitative","scale":{"domain":[0,100],"nice":false},
        "axis":{"values":[0,5,10,15,20,25,30,35,40,45,50,55,60,65,70,75,80,85,90,95,100],"labelExpr":"datum.value % 20 === 0 ? datum.label : ''","title":null,"labelFontSize":6.5,"labelFontWeight":"bold","labelColor":"#444","tickSize":3,"tickColor":"#777","domainColor":"#777","labelPadding":2,"labelOverlap":false}}
  },
  "layer":[
   {"transform":[{"filter":"datum.k==='g'"}],"mark":{"type":"rule","color":"#a4a4b0","strokeWidth":1.3},"encoding":{"y2":{"datum":0}}},
   {"transform":[{"filter":"datum.k==='n'"}],"mark":{"type":"rule","color":"#2c2e5e","strokeWidth":1.5},"encoding":{"y2":{"datum":0}}},
   {"transform":[{"filter":"datum.k==='base'"}],"mark":{"type":"rule","color":"#2c2e5e","strokeWidth":1.5},"encoding":{"x2":{"field":"mz2"}}},
   {"transform":[{"filter":"datum.k==='edge'"}],"mark":{"type":"rule","color":"#b0b0b0","strokeWidth":1},"encoding":{"y2":{"datum":0}}},
   {"transform":[{"filter":"datum.k==='arrow'"}],"mark":{"type":"rule","color":"#4a7ec2","strokeWidth":2},"encoding":{"x2":{"field":"mz2"},"y2":{"field":"i2"}}},
   {"transform":[{"filter":"datum.k==='head'"}],"mark":{"type":"point","shape":"M -1 -0.75 L 0 0 L -1 0.75","filled":false,"color":"#4a7ec2","strokeWidth":2,"size":160,"angle":50,"opacity":1}},
   {"transform":[{"filter":"datum.k==='lab'"}],"mark":{"type":"text","fontSize":14,"align":"center","baseline":"middle","color":"black"},"encoding":{"text":{"field":"txt"}}},
   {"transform":[{"filter":"datum.k==='side'"}],"mark":{"type":"text","fontSize":18,"angle":270,"align":"center","baseline":"middle","color":"black"},"encoding":{"text":{"field":"txt"}}},
   {"transform":[{"filter":"datum.k==='title'"}],"mark":{"type":"text","fontSize":20,"align":"center","baseline":"alphabetic","color":"black"},"encoding":{"text":{"field":"txt"}}}
  ]}
]},
{"width":1,"height":208,"data":{"values":[{"t":""}]},"mark":{"type":"text"},"encoding":{"text":{"field":"t"}}},
{"width":700,"height":17,
 "data":{"name":"arrowx"},
 "encoding":{"x":{"field":"x","type":"quantitative","scale":{"domain":[0,100]},"axis":null},"y":{"field":"y","type":"quantitative","scale":{"domain":[0,100]},"axis":null}},
 "layer":[
  {"transform":[{"filter":"datum.k==='line'"}],"mark":{"type":"rule","color":"black","strokeWidth":2},"encoding":{"x2":{"field":"x2"}}},
  {"transform":[{"filter":"datum.k==='head'"}],"mark":{"type":"point","shape":"triangle-right","filled":true,"color":"black","size":140,"opacity":1}},
  {"transform":[{"filter":"datum.k==='label'"}],"mark":{"type":"text","align":"left","baseline":"middle","fontSize":21,"fontWeight":"bold","color":"black","dy":-2},"encoding":{"text":{"field":"t"}}}
 ]}
]
}
